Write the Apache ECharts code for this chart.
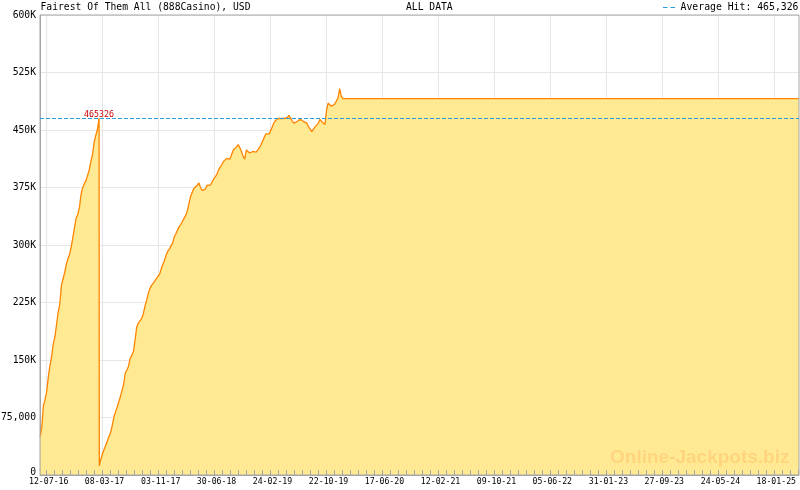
<!DOCTYPE html>
<html>
<head>
<meta charset="utf-8">
<script src="https://cdn.jsdelivr.net/npm/echarts@6/dist/echarts.min.js"></script>
<style>html,body{margin:0;padding:0;background:#fff}#c{width:800px;height:490px}</style>
</head>
<body>
<div id="c"></div>
<script>
// ---------- data ----------
const chartTitle = 'Fairest Of Them All (888Casino), USD';
const rangeTitle = 'ALL DATA';
const avgLegend = 'Average Hit: 465,326';
const watermark = 'Online-Jackpots.biz';
const averageHit = 465326;
const hitDates = ['2017-02-21'];
const hitValues = [465326];
const xTickLabels = ['12-07-16','08-03-17','03-11-17','30-06-18','24-02-19','22-10-19','17-06-20','12-02-21','09-10-21','05-06-22','31-01-23','27-09-23','24-05-24','18-01-25'];
const yTickLabels = ['0','75,000','150K','225K','300K','375K','450K','525K','600K'];

const dates = [
'2016-06-14','2016-06-21','2016-06-28','2016-07-05','2016-07-12','2016-07-19','2016-07-26','2016-08-02','2016-08-09','2016-08-16',
'2016-08-23','2016-08-30','2016-09-06','2016-09-13','2016-09-20','2016-09-27','2016-10-04','2016-10-11','2016-10-18','2016-10-25',
'2016-11-01','2016-11-08','2016-11-15','2016-11-22','2016-11-29','2016-12-06','2016-12-13','2016-12-20','2016-12-27','2017-01-03',
'2017-01-10','2017-01-17','2017-01-24','2017-01-31','2017-02-07','2017-02-14','2017-02-21','2017-02-22','2017-02-28','2017-03-07',
'2017-03-14','2017-03-21','2017-03-28','2017-04-04','2017-04-11','2017-04-18','2017-04-25','2017-05-02','2017-05-09','2017-05-16',
'2017-05-23','2017-05-30','2017-06-06','2017-06-13','2017-06-20','2017-06-27','2017-07-04','2017-07-11','2017-07-18','2017-07-25',
'2017-08-01','2017-08-08','2017-08-15','2017-08-22','2017-08-29','2017-09-05','2017-09-12','2017-09-19','2017-09-26','2017-10-03',
'2017-10-10','2017-10-17','2017-10-24','2017-10-31','2017-11-07','2017-11-14','2017-11-21','2017-11-28','2017-12-05','2017-12-12',
'2017-12-19','2017-12-26','2018-01-02','2018-01-09','2018-01-16','2018-01-23','2018-01-30','2018-02-06','2018-02-13','2018-02-20',
'2018-02-27','2018-03-06','2018-03-13','2018-03-20','2018-03-27','2018-04-03','2018-04-10','2018-04-17','2018-04-24','2018-05-01',
'2018-05-08','2018-05-15','2018-05-22','2018-05-29','2018-06-05','2018-06-12','2018-06-19','2018-06-26','2018-07-03','2018-07-10',
'2018-07-17','2018-07-24','2018-07-31','2018-08-07','2018-08-14','2018-08-21','2018-08-28','2018-09-04','2018-09-11','2018-09-18',
'2018-09-25','2018-10-02','2018-10-09','2018-10-16','2018-10-23','2018-10-30','2018-11-06','2018-11-13','2018-11-20','2018-11-27',
'2018-12-04','2018-12-11','2018-12-18','2018-12-25','2019-01-01','2019-01-08','2019-01-15','2019-01-22','2019-01-29','2019-02-05',
'2019-02-12','2019-02-19','2019-02-26','2019-03-05','2019-03-12','2019-03-19','2019-03-26','2019-04-02','2019-04-09','2019-04-16',
'2019-04-23','2019-04-30','2019-05-07','2019-05-14','2019-05-21','2019-05-28','2019-06-04','2019-06-11','2019-06-18','2019-06-25',
'2019-07-02','2019-07-09','2019-07-16','2019-07-23','2019-07-30','2019-08-06','2019-08-13','2019-08-20','2019-08-27','2019-09-03',
'2019-09-10','2019-09-17','2019-09-24','2019-10-01','2019-10-08','2019-10-15','2019-10-22','2019-10-29','2019-11-05','2019-11-12',
'2019-11-19','2019-11-26','2019-12-03','2019-12-10','2019-12-17','2019-12-24','2019-12-31','2025-05-04'
];
const values = [
50000,62000,91000,98000,109000,128000,143000,154000,171000,180000,
196000,212000,223000,247000,256000,264000,275000,282000,288000,298000,
310000,323000,335000,340000,349000,366000,375000,380000,384000,386000,
398000,409000,418000,434000,443000,451000,465326,12000,20000,27000,
33000,38000,44000,50000,55000,64000,75000,82000,88000,95000,
102000,110000,118000,133000,137000,142000,152000,156000,161000,176000,
193000,198000,200000,204000,210000,220000,227000,236000,243000,247000,
250000,253000,256000,258000,262000,269000,275000,280000,287000,292000,
295000,297000,303000,311000,315000,320000,324000,327000,331000,335000,
339000,345000,355000,364000,369000,374000,376000,378000,381000,375000,
371000,369000,373000,378000,380000,378000,377000,386000,389000,392000,
398000,400000,405000,409000,411000,413000,414000,412000,418000,424000,
426000,428000,431000,427000,422000,416000,412000,424000,423000,420000,
420000,422000,421000,421000,424000,427000,431000,436000,441000,445000,
445000,445000,447000,455000,460000,461000,465000,466000,465000,466000,
465000,466000,466000,469000,467000,462000,459000,459000,461000,462000,
464000,462000,461000,461000,459000,454000,451000,448000,451000,454000,
456000,459000,464000,461000,459000,457000,476000,485000,484000,481000,
482000,484000,484000,492000,504000,494000,491000,491000
];

// ---------- helpers ----------
const DAY = 864e5;
function parseYMD(s){const p=s.split('-').map(Number);return new Date(p[0],p[1]-1,p[2]).getTime();}
function parseDMY(s){const p=s.split('-').map(Number);return new Date(2000+p[2],p[1]-1,p[0]).getTime();}

const labelTs = xTickLabels.map(parseDMY);
// pixel layout of the date axis (grid from x=40 to x=799; first label at 46.7, last at 774.3)
const L0 = labelTs[0], LN = labelTs[labelTs.length-1];
const pxPerMs = (774.3-46.7)/(LN-L0);
const xMin = L0 - 6.7/pxPerMs;
const xMax = LN + 24.7/pxPerMs;
// minor ticks: 7 per label interval
const minorTicks = [];
for (let i=0;i<labelTs.length-1;i++){
  const st=(labelTs[i+1]-labelTs[i])/7;
  for(let j=0;j<7;j++) minorTicks.push(labelTs[i]+j*st);
}
const stepLast=(LN-L0)/((labelTs.length-1)*7);
for(let j=0;j<4;j++){const t=LN+j*stepLast; if(t<=xMax) minorTicks.push(t);}

const seriesData = dates.map((d,i)=>[parseYMD(d), values[i]]);
const FONT = '"DejaVu Sans Mono", monospace';
const AXIS_GRAY = '#a6a6a6';

const chart = echarts.init(document.getElementById('c'), null, {renderer:'canvas'});
chart.setOption({
  animation:false,
  backgroundColor:'#ffffff',
  grid:{left:40,right:1,top:15,bottom:15,show:true,z:3,borderColor:AXIS_GRAY,borderWidth:1,backgroundColor:'rgba(0,0,0,0)',outerBoundsMode:'none'},
  xAxis:[
    {type:'value',min:xMin,max:xMax,position:'bottom',z:3,
     axisLine:{show:true,lineStyle:{color:AXIS_GRAY,width:1}},
     axisTick:{show:true,inside:true,length:5,customValues:minorTicks,lineStyle:{color:AXIS_GRAY,width:1}},
     axisLabel:{show:false},splitLine:{show:false},minorTick:{show:false}},
    {type:'value',min:xMin,max:xMax,position:'bottom',
     axisLine:{show:false},
     axisTick:{show:false,customValues:labelTs},
     axisLabel:{show:true,customValues:labelTs,margin:2.5,padding:[0,0,0,4],fontSize:8.2,fontFamily:FONT,color:'#000',
       formatter:function(v){for(let i=0;i<labelTs.length;i++){if(Math.abs(labelTs[i]-v)<DAY)return xTickLabels[i];}return '';}},
     splitLine:{show:true,lineStyle:{color:'#e6e6e6',width:1}}}
  ],
  yAxis:{type:'value',min:0,max:600000,interval:75000,
    axisLine:{show:true,lineStyle:{color:AXIS_GRAY}},axisTick:{show:false},
    axisLabel:{margin:4,fontSize:9.7,fontFamily:FONT,color:'#000',
      formatter:function(v){const s=yTickLabels[Math.round(v/75000)];return v===0?'{z|'+s+'}':s;},
      rich:{z:{fontSize:9.7,fontFamily:FONT,color:'#000',padding:[0,0,6,0]}}},
    splitLine:{show:true,lineStyle:{color:'#e6e6e6',width:1}}},
  series:[{
    type:'line',xAxisIndex:0,yAxisIndex:0,data:seriesData,symbol:'none',showSymbol:false,z:2,
    lineStyle:{color:'#ff8400',width:1.3},itemStyle:{color:'#ff8400'},
    areaStyle:{color:'#ffea93',opacity:1},
    markLine:{silent:true,symbol:['none','none'],label:{show:false},animation:false,
      lineStyle:{color:'#2a9bd6',type:[4,2],width:1},data:[{yAxis:averageHit}]},
    markPoint:{silent:true,symbol:'circle',symbolSize:1,itemStyle:{color:'rgba(0,0,0,0)'},animation:false,
      label:{show:true,position:'top',distance:-1,color:'#cc0000',fontSize:8.3,fontFamily:FONT,formatter:function(p){return String(p.value);}},
      data:hitDates.map((d,i)=>({coord:[parseYMD(d),hitValues[i]],value:hitValues[i]}))}
  }],
  graphic:[
    {type:'text',z:10,style:{x:40.5,y:7.5,text:chartTitle,font:'9.7px '+FONT,fill:'#000',verticalAlign:'middle'}},
    {type:'text',z:10,style:{x:406,y:7.5,text:rangeTitle,font:'9.7px '+FONT,fill:'#000',verticalAlign:'middle'}},
    {type:'line',z:10,shape:{x1:663,y1:7.5,x2:675.5,y2:7.5},style:{stroke:'#2a9bd6',lineWidth:1,lineDash:[4.5,3]}},
    {type:'text',z:10,style:{x:798.5,y:7.5,text:avgLegend,font:'9.8px '+FONT,fill:'#000',align:'right',verticalAlign:'middle'}},
    {type:'text',z:10,style:{x:610,y:458,text:watermark,font:'bold 19px "Liberation Sans", Arial, sans-serif',fill:'#ffd47e',verticalAlign:'middle'}}
  ]
});
</script>
</body>
</html>
